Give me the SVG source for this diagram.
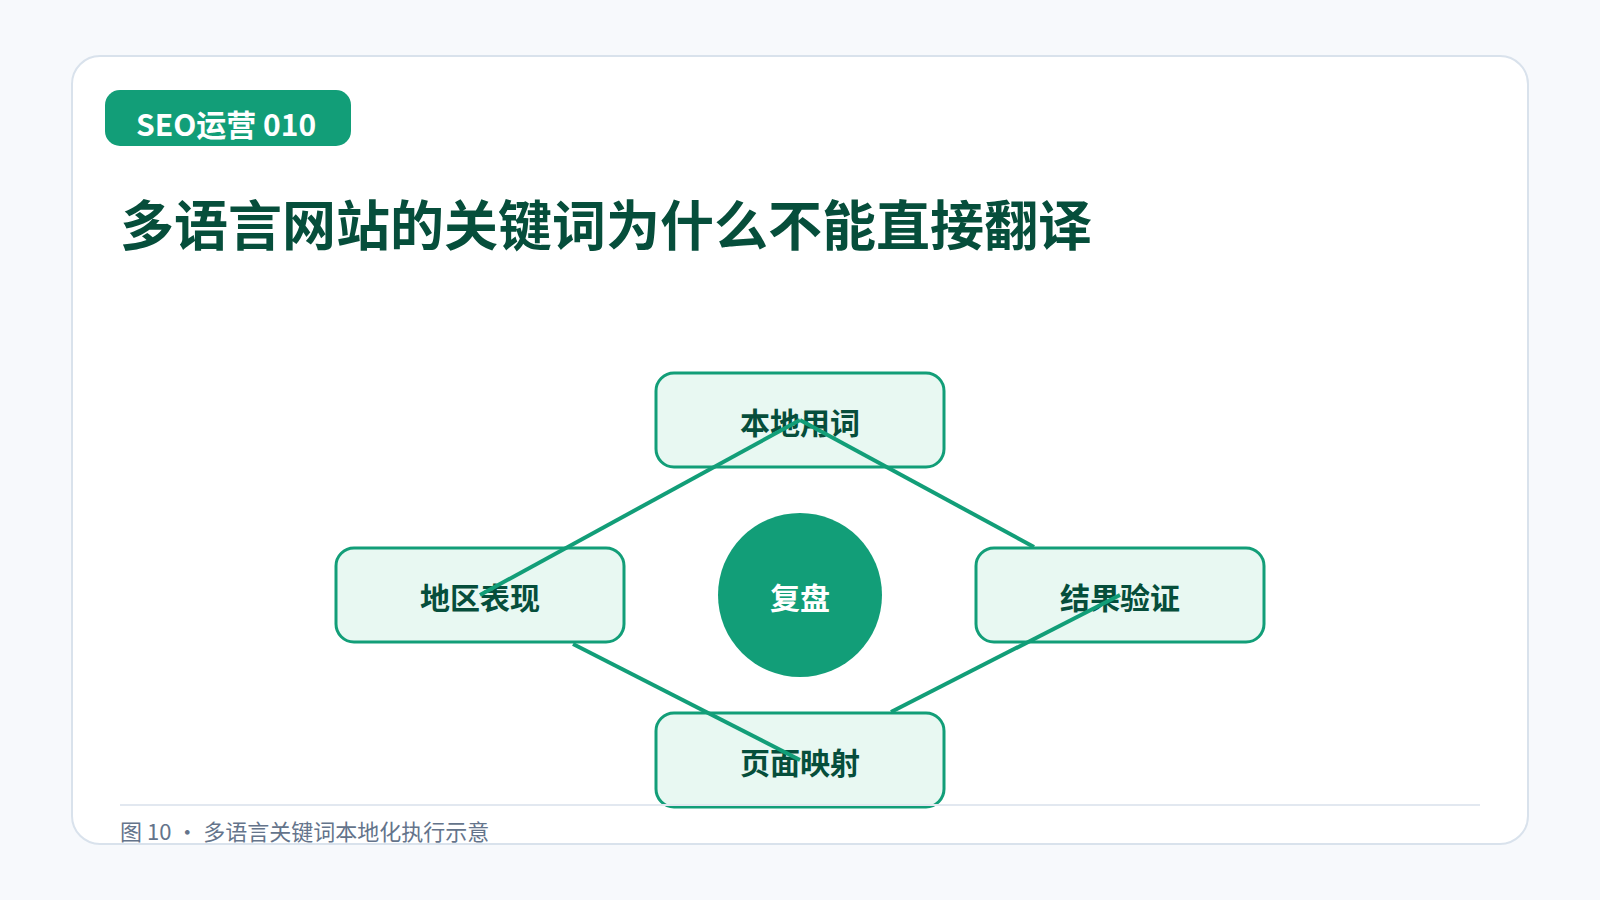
<svg xmlns="http://www.w3.org/2000/svg" width="1600" height="900" viewBox="0 0 1600 900">
  <style>
    .cjk { font-family: "Noto Sans CJK SC", "Noto Sans", sans-serif; }
    .node rect { fill: #e8f8f2; stroke: #129e78; stroke-width: 3; }
    .node text { font-family: "Noto Sans CJK SC", "Noto Sans", sans-serif; font-size: 30px; font-weight: 700; fill: #064e3b; text-anchor: middle; dominant-baseline: central; }
    .edge { stroke: #129e78; stroke-width: 4; fill: none; stroke-linecap: butt; }
  </style>
  <rect x="0" y="0" width="1600" height="900" fill="#f7f9fc"/>
  <g id="card">
    <rect x="72" y="56" width="1456" height="788" rx="28" fill="#ffffff" stroke="#d9e2ec" stroke-width="2"/>
  </g>
  <g id="badge">
    <rect x="105" y="90" width="246" height="56" rx="15" fill="#129e78"/>
    <text x="136" y="136" class="cjk" font-size="30" font-weight="700" fill="#ffffff">SEO运营 010</text>
  </g>
  <g id="title">
    <text x="120" y="246" class="cjk" font-size="54" font-weight="700" fill="#064e3b">多语言网站的关键词为什么不能直接翻译</text>
  </g>
  <g id="node-top" class="node">
    <rect x="656" y="373" width="288" height="94" rx="18"/>
    <text x="800" y="421">本地用词</text>
  </g>
  <g id="node-right" class="node">
    <rect x="976" y="548" width="288" height="94" rx="18"/>
    <text x="1120" y="596">结果验证</text>
  </g>
  <g id="node-bottom" class="node">
    <rect x="656" y="713" width="288" height="94" rx="18"/>
    <text x="800" y="761">页面映射</text>
  </g>
  <g id="node-left" class="node">
    <rect x="336" y="548" width="288" height="94" rx="18"/>
    <text x="480" y="596">地区表现</text>
  </g>
  <g id="node-center">
    <circle cx="800" cy="595" r="82" fill="#129e78"/>
    <text x="800" y="596" class="cjk" font-size="30" font-weight="700" fill="#ffffff" text-anchor="middle" dominant-baseline="central">复盘</text>
  </g>
  <g id="connectors">
    <line class="edge" x1="800" y1="420" x2="1034" y2="547"/>
    <line class="edge" x1="1120" y1="595" x2="891" y2="712"/>
    <line class="edge" x1="800" y1="760" x2="573" y2="644"/>
    <line class="edge" x1="480" y1="595" x2="800" y2="420"/>
  </g>
  <g id="footer">
    <line x1="120" y1="805" x2="1480" y2="805" stroke="#e2e8f0" stroke-width="2"/>
    <text x="120" y="840" class="cjk" font-size="22" fill="#64748b">图 10 · 多语言关键词本地化执行示意</text>
  </g>
</svg>
